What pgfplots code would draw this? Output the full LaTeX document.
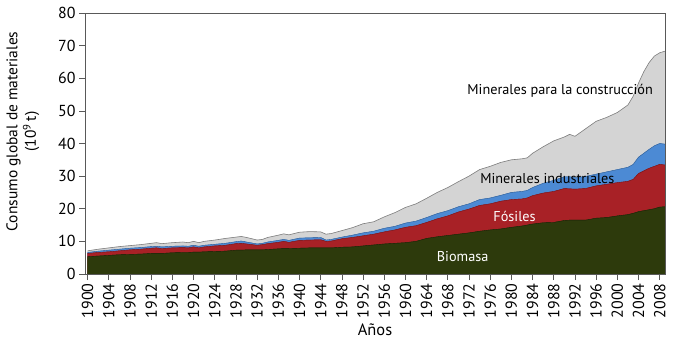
\documentclass[border=0pt]{standalone}
\usepackage{pgfplots}
\usepackage{pgfplotstable}
\pgfplotsset{compat=1.18}
\usepackage{fontspec}
\setmainfont{PT Sans}

\definecolor{cgreen}{RGB}{45,58,12}
\definecolor{cred}{RGB}{168,33,38}
\definecolor{cblue}{RGB}{76,138,212}
\definecolor{cgray}{RGB}{212,212,212}

% cumulative tops: B = Biomasa, F = + Fosiles, I = + Minerales industriales, T = total
\pgfplotstableread{
year B F I T
1900 5.3 6.3 6.6 7.1
1902 5.5 6.6 7.0 7.6
1904 5.7 6.8 7.3 8.0
1906 5.9 7.1 7.6 8.4
1908 6.0 7.4 7.9 8.7
1910 6.1 7.6 8.1 9.0
1912 6.3 7.9 8.4 9.4
1913 6.3 8.0 8.5 9.6
1914 6.3 7.8 8.3 9.3
1916 6.5 8.0 8.5 9.6
1918 6.6 8.1 8.6 9.8
1919 6.6 8.0 8.5 9.6
1920 6.7 8.3 8.8 10.0
1921 6.7 8.0 8.5 9.6
1922 6.8 8.3 8.8 10.0
1924 6.9 8.6 9.1 10.4
1926 7.0 8.8 9.4 10.9
1928 7.3 9.3 9.9 11.3
1929 7.3 9.4 10.1 11.5
1930 7.4 9.2 9.8 11.2
1932 7.4 8.8 9.2 10.4
1933 7.4 9.0 9.4 10.6
1934 7.5 9.3 9.8 11.2
1936 7.7 9.7 10.3 11.9
1937 7.8 10.0 10.6 12.3
1938 7.8 9.7 10.3 12.0
1940 7.9 10.3 11.0 12.8
1942 8.0 10.4 11.1 13.0
1944 8.0 10.5 11.2 12.9
1945 8.0 10.0 10.4 12.2
1946 8.0 10.1 10.6 12.4
1948 8.2 10.8 11.3 13.3
1950 8.3 11.2 11.9 14.2
1952 8.6 11.7 12.6 15.4
1954 8.9 12.2 13.1 16.0
1956 9.2 12.9 14.0 17.5
1958 9.4 13.5 14.6 18.8
1960 9.6 14.3 15.6 20.4
1962 10.0 14.8 16.2 21.5
1964 10.9 15.8 17.3 23.2
1966 11.4 16.9 18.5 25.0
1968 11.8 17.8 19.4 26.5
1970 12.2 19.0 20.6 28.3
1972 12.6 19.9 21.5 30.0
1974 13.1 21.0 22.8 32.0
1976 13.5 21.5 23.3 33.0
1978 13.8 22.3 24.1 34.2
1980 14.3 22.8 25.0 35.0
1982 14.7 23.0 25.3 35.3
1983 15.0 23.3 25.6 35.6
1984 15.3 24.0 26.5 37.0
1986 15.7 24.8 27.8 39.0
1988 15.8 25.3 28.7 40.8
1990 16.4 26.2 29.8 42.0
1991 16.5 26.1 29.8 42.8
1992 16.5 26.0 29.5 42.2
1994 16.5 26.2 29.9 44.5
1996 17.1 27.0 30.6 46.8
1998 17.3 27.5 31.3 48.0
2000 17.8 28.0 32.0 49.5
2002 18.2 28.4 32.7 51.8
2003 18.6 29.0 33.6 54.5
2004 19.1 30.8 35.8 58.5
2005 19.4 31.6 37.0 62.0
2006 19.7 32.4 38.2 64.8
2007 20.0 33.0 39.3 66.8
2008 20.5 33.6 40.0 67.8
2009 20.6 33.4 39.8 68.3
}\data

\begin{document}
\begin{tikzpicture}
\begin{axis}[
  scale only axis,
  width=580bp, height=261bp,
  xmin=1899.5, xmax=2009, ymin=0, ymax=80,
  xtick={1900,1904,...,2008},
  ytick={0,10,...,80},
  /pgf/number format/assume math mode=true,
  /pgf/number format/set thousands separator={},
  x tick label style={rotate=90, anchor=east},
  ticklabel style={font=\fontsize{16}{18}\selectfont},
  xlabel style={font=\fontsize{16.5}{18}\selectfont, yshift=1bp},
  ylabel style={font=\fontsize{15.5}{18.5}\selectfont, align=center,
                at={(ticklabel cs:0.546,12bp)}},
  tick align=outside,
  xtick pos=bottom, ytick pos=left,
  axis line style={black!65, line width=0.7pt},
  major tick style={black!65, line width=0.7pt},
  major tick length=6bp,
  xlabel={Años},
  ylabel={Consumo global de materiales\\(10\textsuperscript{9}\,t)},
  axis on top,
]
\addplot[fill=cgray, draw=cgray] table[x=year, y=T]{\data} \closedcycle;
\addplot[fill=cblue, draw=cblue] table[x=year, y=I]{\data} \closedcycle;
\addplot[fill=cred, draw=cred] table[x=year, y=F]{\data} \closedcycle;
\addplot[fill=cgreen, draw=cgreen] table[x=year, y=B]{\data} \closedcycle;
\addplot[black!50, line width=0.6pt] table[x=year, y=T]{\data};
\addplot[cblue!70!black, line width=0.4pt] table[x=year, y=I]{\data};
\addplot[cred!70!black, line width=0.4pt] table[x=year, y=F]{\data};
\addplot[cgreen!60!black, line width=0.4pt] table[x=year, y=B]{\data};
\node[font=\fontsize{14.3}{16}\selectfont] at (axis cs:1989.2,56.1) {Minerales para la construcción};
\node[font=\fontsize{14.3}{16}\selectfont] at (axis cs:1986.8,29.4) {Minerales industriales};
\node[font=\fontsize{14.3}{16}\selectfont, text=white] at (axis cs:1980.6,17.5) {Fósiles};
\node[font=\fontsize{14.3}{16}\selectfont, text=white] at (axis cs:1970.8,5.5) {Biomasa};
\coordinate (SW) at (rel axis cs:0,0);
\coordinate (NE) at (rel axis cs:1,1);
\end{axis}
\path ([xshift=-85bp,yshift=-68bp]SW) rectangle ([xshift=15bp,yshift=13bp]NE);
\end{tikzpicture}
\end{document}
